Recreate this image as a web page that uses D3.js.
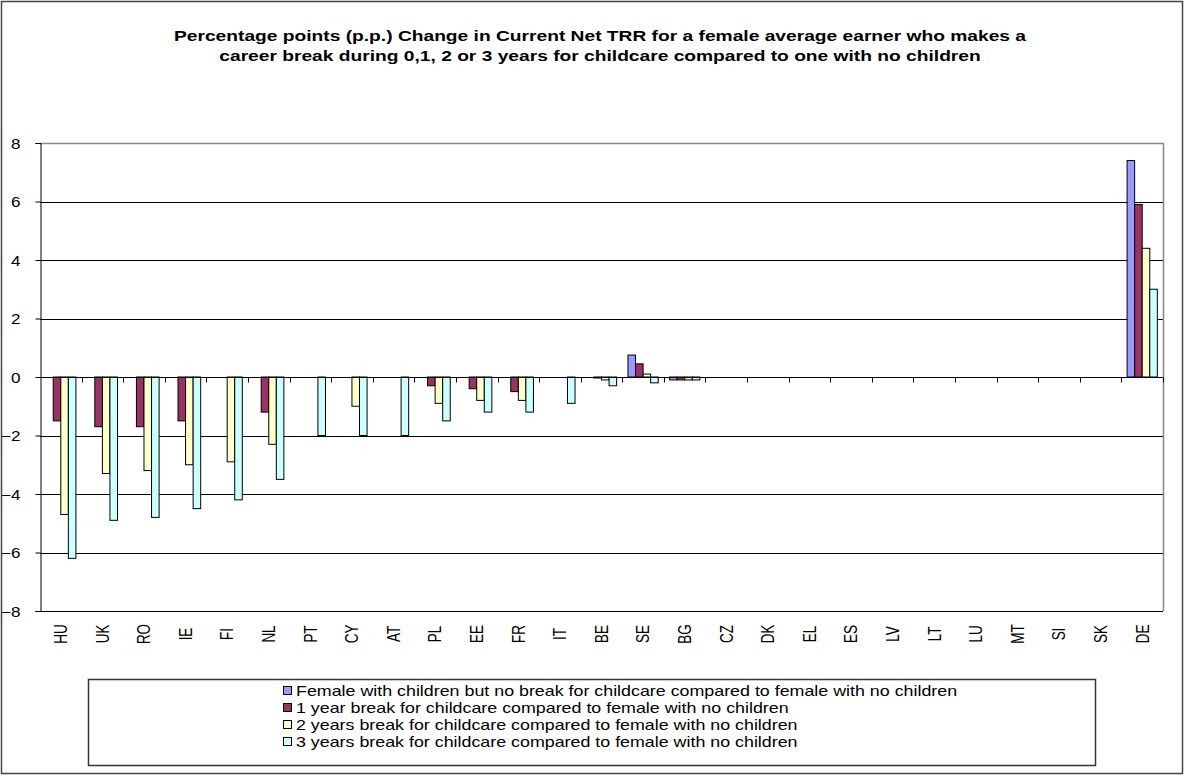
<!DOCTYPE html>
<html>
<head>
<meta charset="utf-8">
<script src="https://cdn.jsdelivr.net/npm/d3@7"></script>
<style>
  html, body { margin: 0; padding: 0; background: #fff; }
  svg { display: block; }
  text { font-family: "Liberation Sans", Arial, sans-serif; fill: #000; }
</style>
</head>
<body>
<svg id="chart" width="1185" height="776"></svg>
<script>
const categories = ["HU","UK","RO","IE","FI","NL","PT","CY","AT","PL","EE","FR","IT","BE","SE","BG","CZ","DK","EL","ES","LV","LT","LU","MT","SI","SK","DE"];
const seriesNames = [
  "Female with children but no break for childcare compared to female with no children",
  "1 year break for childcare compared to female with no children",
  "2 years break for childcare compared to female with no children",
  "3 years break for childcare compared to female with no children"
];
const noBreak   = [0,0,0,0,0,0,0,0,0,0,0,0,0,0,0.75,-0.1,0,0,0,0,0,0,0,0,0,0,7.4];
const oneYear   = [-1.5,-1.7,-1.7,-1.5,0,-1.2,0,0,0,-0.3,-0.4,-0.5,0,-0.03,0.45,-0.1,0,0,0,0,0,0,0,0,0,0,5.9];
const twoYears  = [-4.7,-3.3,-3.2,-3.0,-2.9,-2.3,0,-1.0,0,-0.9,-0.8,-0.8,0,-0.1,0.1,-0.1,0,0,0,0,0,0,0,0,0,0,4.4];
const threeYears= [-6.2,-4.9,-4.8,-4.5,-4.2,-3.5,-2.0,-2.0,-2.0,-1.5,-1.2,-1.2,-0.9,-0.3,-0.2,-0.1,0,0,0,0,0,0,0,0,0,0,3.0];
const yTicks = [-8,-6,-4,-2,0,2,4,6,8];
const colors = ["#9999FF","#993366","#FFFFCC","#CCFFFF"];
const titleLines = [
  "Percentage points (p.p.) Change in Current Net TRR for a female average earner who makes a",
  "career break during 0,1, 2 or 3 years for childcare compared to one with no children"
];

const allSeries = [noBreak, oneYear, twoYears, threeYears];
const svg = d3.select("#chart");

// outer chart border
svg.append("rect").attr("x",1.5).attr("y",1.5).attr("width",1181).attr("height",772)
  .attr("fill","#fff").attr("stroke","#444").attr("stroke-width",1.5);

const plot = {left:40, right:1163, top:143, bottom:611};
const x = d3.scaleBand().domain(categories).range([plot.left, plot.right]).paddingInner(0).paddingOuter(0);
const xs = d3.scaleBand().domain(d3.range(4)).range([0, x.bandwidth()]).paddingInner(0).paddingOuter(0.75);
const y = d3.scaleLinear().domain([-8,8]).range([plot.bottom, plot.top]);

// gridlines
svg.append("g").selectAll("line").data(yTicks.filter(t => t !== 8)).join("line")
  .attr("x1",plot.left).attr("x2",plot.right)
  .attr("y1",d=>Math.round(y(d))+0.5).attr("y2",d=>Math.round(y(d))+0.5)
  .attr("stroke","#000").attr("stroke-width",1);

// plot border top/right (gray)
svg.append("path")
  .attr("d",`M${plot.left},${plot.top+0.5}H${plot.right+0.5}V${plot.bottom}`)
  .attr("fill","none").attr("stroke","#888").attr("stroke-width",1.5);

// bars
const barData = [];
categories.forEach((c,ci) => allSeries.forEach((s,si) => {
  if (s[ci] !== 0) barData.push({c, si, v: s[ci]});
}));
svg.append("g").selectAll("rect").data(barData).join("rect")
  .attr("x", d => x(d.c) + xs(d.si))
  .attr("width", xs.bandwidth())
  .attr("y", d => y(Math.max(0,d.v)))
  .attr("height", d => Math.max(1, Math.abs(y(d.v) - y(0))))
  .attr("fill", d => colors[d.si])
  .attr("stroke","#000").attr("stroke-width",1);

// y axis
const yAxis = d3.axisLeft(y).tickValues(yTicks).tickSize(5).tickFormat(d3.format("d"));
const ya = svg.append("g").attr("transform",`translate(${plot.left+0.5},0)`).call(yAxis);
ya.attr("font-size", null).attr("font-family", null);
ya.select(".domain").attr("stroke","#000");
ya.selectAll("line").attr("stroke","#000");
ya.selectAll("text").style("font-size","14px").attr("x",0).attr("dy","0.36em")
  .attr("text-anchor","end").attr("transform","translate(-20,0) scale(1.22,1)");

// category axis at zero
const xa = svg.append("g").attr("transform",`translate(0,${Math.round(y(0))+0.5})`);
xa.append("line").attr("x1",plot.left).attr("x2",plot.right).attr("stroke","#000");
xa.selectAll("line.tk").data(categories).join("line").attr("class","tk")
  .attr("x1",d=>Math.round(x(d)+x.step())+0.5)
  .attr("x2",d=>Math.round(x(d)+x.step())+0.5)
  .attr("y1",0).attr("y2",5).attr("stroke","#000");

// category labels at bottom
svg.append("g").selectAll("text").data(categories).join("text")
  .attr("transform", d => `translate(${x(d)+x.bandwidth()/2},634) scale(1.3,1) rotate(-90)`)
  .attr("text-anchor","middle").attr("dy","0.36em")
  .style("font-size","13.5px").text(d=>d);

// title
svg.append("g").selectAll("text").data(titleLines).join("text")
  .attr("transform",(d,i)=>`translate(600,${41+i*20}) scale(1.28,1)`)
  .attr("text-anchor","middle")
  .attr("font-weight","bold").style("font-size","15px")
  .text(d=>d);

// legend
const lg = svg.append("g");
lg.append("rect").attr("x",88.5).attr("y",679.5).attr("width",1007).attr("height",86)
  .attr("fill","#fff").attr("stroke","#333").attr("stroke-width",1.5);
const rows = lg.selectAll("g.row").data(seriesNames).join("g").attr("class","row")
  .attr("transform",(d,i)=>`translate(283,${691+i*17})`);
rows.append("rect").attr("x",0.5).attr("y",-4.5).attr("width",8).attr("height",8)
  .attr("fill",(d,i)=>colors[i]).attr("stroke","#000");
rows.append("text").attr("dy","0.36em").style("font-size","14.5px")
  .attr("transform","translate(13,0) scale(1.23,1)").text(d=>d);
</script>
</body>
</html>
